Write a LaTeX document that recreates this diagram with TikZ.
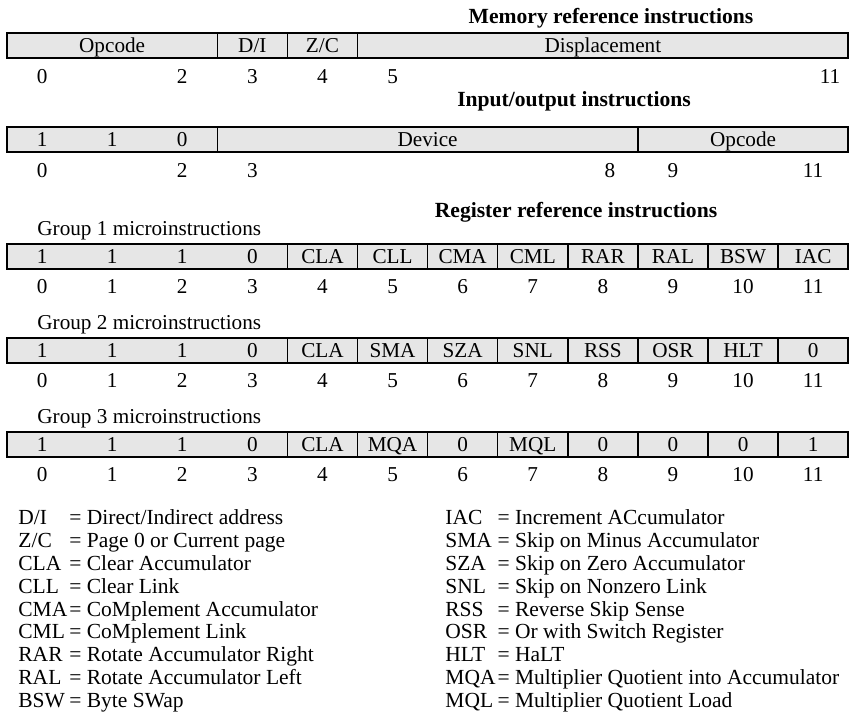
\documentclass[tikz,border=0pt]{standalone}
\usepackage{fontspec}
\setmainfont{Liberation Serif}
\usetikzlibrary{positioning}
\definecolor{fieldGray}{RGB}{230,230,230}
\newcommand{\bitw}{35.05pt}

\begin{document}
\begin{tikzpicture}[x=0.5pt, y=-0.5pt,
  font=\fontsize{10.6}{11.45}\selectfont,
  field/.style={rectangle, draw=black, line width=0.75pt, fill=fieldGray,
    minimum height=12.5pt, inner sep=0pt, outer sep=0pt,
    text height=8pt, text depth=1pt},
  bitval/.style={anchor=base, inner sep=0pt},
  bitno/.style={anchor=base, inner sep=0pt},
  heading/.style={anchor=base, inner sep=0pt,
    font=\fontsize{10.8}{11.45}\selectfont\bfseries},
  grouplabel/.style={anchor=base west, inner sep=0pt},
  legend/.style={anchor=north west, inner sep=0pt,
    font=\fontsize{10.75}{11.45}\selectfont}]
\useasboundingbox (0,0) rectangle (855,712);
% one bit cell is 70.1 units wide, bit 0 starts at x = 7

% Memory reference instructions
\node[heading] (memtitle) at (611,23) {Memory reference instructions};
\node[field, minimum width=3*\bitw] (memop) at ({7+70.1*1.5},45.5) {Opcode};
\node[field, minimum width=\bitw, right=0pt of memop] (memdi) {D/I};
\node[field, minimum width=\bitw, right=0pt of memdi] (memzc) {Z/C};
\node[field, minimum width=7*\bitw, right=0pt of memzc] (memdisp) {Displacement};
\foreach \b in {0,2,3,4,5}
  \node[bitno] (memn\b) at ({7+70.1*(\b+0.5)},83) {\b};
\node[bitno] (memn11) at (830,83) {11};

% Input/output instructions
\node[heading] (iotitle) at (574,106) {Input/output instructions};
\node[field, minimum width=3*\bitw] (iofix) at ({7+70.1*1.5},139.5) {};
\foreach \v [count=\b from 0] in {1,1,0}
  \node[bitval] (iov\b) at ({7+70.1*(\b+0.5)},146.5) {\v};
\node[field, minimum width=6*\bitw, right=0pt of iofix] (iodev) {Device};
\node[field, minimum width=3*\bitw, right=0pt of iodev] (ioop) {Opcode};
\foreach \b in {0,2,3}
  \node[bitno] (ion\b) at ({7+70.1*(\b+0.5)},177) {\b};
\node[bitno] (ion8) at (610,177) {8};
\node[bitno] (ion9) at (673,177) {9};
\node[bitno] (ion11) at (813,177) {11};

% Register reference instructions
\node[heading] (regtitle) at (576,217) {Register reference instructions};
\foreach \g/\yt/\cells in {1/244/{CLA,CLL,CMA,CML,RAR,RAL,BSW,IAC},
                          2/338/{CLA,SMA,SZA,SNL,RSS,OSR,HLT,0},
                          3/432/{CLA,MQA,0,MQL,0,0,0,1}} {
  \node[grouplabel] (g\g lab) at (37,{\yt-9}) {Group \g\ microinstructions};
  \node[field, minimum width=4*\bitw] (g\g fix) at ({7+70.1*2},{\yt+12.5}) {};
  \foreach \v [count=\b from 0] in {1,1,1,0}
    \node[bitval] (g\g v\b) at ({7+70.1*(\b+0.5)},{\yt+19.5}) {\v};
  \foreach \t [count=\b from 4] in \cells
    \node[field, minimum width=\bitw] (g\g c\b) at ({7+70.1*(\b+0.5)},{\yt+12.5}) {\t};
  \foreach \b in {0,...,11}
    \node[bitno] (g\g n\b) at ({7+70.1*(\b+0.5)},{\yt+49}) {\b};
}

% Legend
\node[legend] (keyleft) at (18,508) {\begin{tabular}{@{}l@{\hspace{1pt}}l@{}}
D/I & = Direct/Indirect address\\
Z/C & = Page 0 or Current page\\
CLA & = Clear Accumulator\\
CLL & = Clear Link\\
CMA & = CoMplement Accumulator\\
CML & = CoMplement Link\\
RAR & = Rotate Accumulator Right\\
RAL & = Rotate Accumulator Left\\
BSW & = Byte SWap
\end{tabular}};
\node[legend] (keyright) at (445,508) {\begin{tabular}{@{}l@{\hspace{1pt}}l@{}}
IAC & = Increment ACcumulator\\
SMA & = Skip on Minus Accumulator\\
SZA & = Skip on Zero Accumulator\\
SNL & = Skip on Nonzero Link\\
RSS & = Reverse Skip Sense\\
OSR & = Or with Switch Register\\
HLT & = HaLT\\
MQA & = Multiplier Quotient into Accumulator\\
MQL & = Multiplier Quotient Load
\end{tabular}};
\end{tikzpicture}
\end{document}
